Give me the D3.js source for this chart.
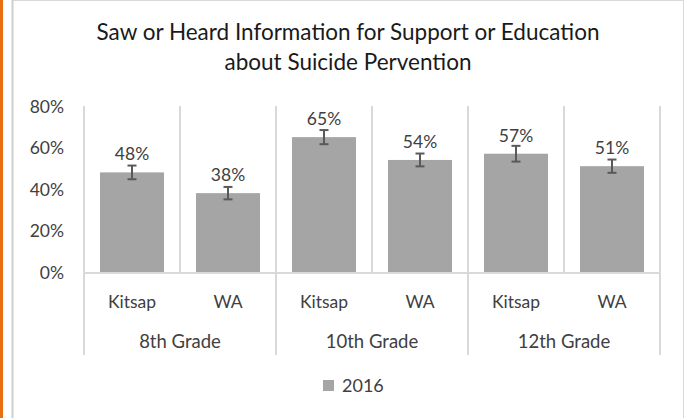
<!DOCTYPE html>
<html>
<head>
<meta charset="utf-8">
<script src="https://cdn.jsdelivr.net/npm/d3@7"></script>
<style>
  body { margin: 0; background: #fff; }
  text { font-family: Lato, "Open Sans", sans-serif; fill: #404040; }
</style>
</head>
<body>
<svg id="chart" width="686" height="418"></svg>
<script>
// Chart data
var grades   = ["8th Grade", "10th Grade", "12th Grade"];
var regions  = ["Kitsap", "WA"];
var values   = [48, 38, 65, 54, 57, 51];
var errors   = [3.3, 3.0, 3.4, 3.1, 3.8, 3.2];
var yTicks   = [0, 20, 40, 60, 80];
var titleLines = ["Saw or Heard Information for Support or Education", "about Suicide Pervention"];
var seriesName = "2016";

var rows = [];
grades.forEach(function(g, gi) {
  regions.forEach(function(r, ri) {
    var i = gi * regions.length + ri;
    rows.push({ key: g + "|" + r, grade: g, region: r, value: values[i], err: errors[i] });
  });
});

var svg = d3.select("#chart");
var plot = { left: 84, right: 660, top: 106, bottom: 272 };

// frame
svg.append("rect").attr("x", 0).attr("y", 0).attr("width", 3).attr("height", 418).attr("fill", "#e8700f");
svg.append("rect").attr("x", 12.5).attr("y", 0.5).attr("width", 671).attr("height", 420)
  .attr("fill", "none").attr("stroke", "#d9d9d9").attr("stroke-width", 1);
svg.append("line").attr("x1", 12.5).attr("x2", 12.5).attr("y1", 0).attr("y2", 418)
  .attr("stroke", "#cfcfcf").attr("stroke-width", 2);

var x = d3.scaleBand().domain(rows.map(d => d.key)).range([plot.left, plot.right]);
var xg = d3.scaleBand().domain(grades).range([plot.left, plot.right]);
var y = d3.scaleLinear().domain([0, 80]).range([plot.bottom, plot.top]);

// title
svg.append("text")
  .attr("x", 348).attr("y", 40)
  .attr("text-anchor", "middle")
  .style("font-size", "22.5px")
  .style("fill", "#1a1a1a")
  .selectAll("tspan").data(titleLines).join("tspan")
  .attr("x", 348).attr("dy", (d, i) => i ? 30 : 0)
  .text(d => d);

// vertical gridlines between categories (inside plot)
svg.append("g").selectAll("line").data(rows.slice(1)).join("line")
  .attr("x1", d => x(d.key)).attr("x2", d => x(d.key))
  .attr("y1", plot.top).attr("y2", plot.bottom)
  .attr("stroke", "#d9d9d9").attr("stroke-width", 2);

// group separators (through category axis)
var edges = grades.map(g => xg(g)).concat([plot.right]);
svg.append("g").selectAll("line").data(edges).join("line")
  .attr("x1", d => d).attr("x2", d => d)
  .attr("y1", plot.top).attr("y2", 355)
  .attr("stroke", "#d9d9d9").attr("stroke-width", 2);

// y axis labels
var yAxis = d3.axisLeft(y).tickValues(yTicks).tickFormat(d => d + "%").tickSize(0).tickPadding(0);
var ya = svg.append("g").attr("transform", "translate(64,0)").call(yAxis);
ya.select(".domain").remove();
ya.selectAll("text").style("font-size", "17.5px").style("fill", "#404040").attr("dy", "0.35em")
  .style("font-family", "Lato, sans-serif");

// bars
var bw = x.bandwidth() * 2 / 3;
svg.append("g").selectAll("rect").data(rows).join("rect")
  .attr("x", d => x(d.key) + (x.bandwidth() - bw) / 2)
  .attr("y", d => y(d.value))
  .attr("width", bw)
  .attr("height", d => y(0) - y(d.value))
  .attr("fill", "#a5a5a5");

// baseline
svg.append("line").attr("x1", plot.left).attr("x2", plot.right)
  .attr("y1", plot.bottom + 1).attr("y2", plot.bottom + 1)
  .attr("stroke", "#d9d9d9").attr("stroke-width", 2);

// error bars
var eb = svg.append("g").attr("stroke", "#595959").attr("stroke-width", 2);
rows.forEach(function(d) {
  var cx = x(d.key) + x.bandwidth() / 2;
  var y0 = y(d.value + d.err), y1 = y(d.value - d.err);
  eb.append("line").attr("x1", cx).attr("x2", cx).attr("y1", y0).attr("y2", y1);
  eb.append("line").attr("x1", cx - 4.5).attr("x2", cx + 4.5).attr("y1", y0).attr("y2", y0);
  eb.append("line").attr("x1", cx - 4.5).attr("x2", cx + 4.5).attr("y1", y1).attr("y2", y1);
});

// value labels
svg.append("g").selectAll("text").data(rows).join("text")
  .attr("x", d => x(d.key) + x.bandwidth() / 2)
  .attr("y", d => y(d.value) - 12)
  .attr("text-anchor", "middle")
  .style("font-size", "17.5px")
  .text(d => d.value + "%");

// category labels
svg.append("g").selectAll("text").data(rows).join("text")
  .attr("x", d => x(d.key) + x.bandwidth() / 2)
  .attr("y", 308)
  .attr("text-anchor", "middle")
  .style("font-size", "17.5px")
  .text(d => d.region);

svg.append("g").selectAll("text").data(grades).join("text")
  .attr("x", d => xg(d) + xg.bandwidth() / 2)
  .attr("y", 348)
  .attr("text-anchor", "middle")
  .style("font-size", "18.5px")
  .text(d => d);

// legend
var lg = svg.append("g").attr("transform", "translate(323,380)");
lg.append("rect").attr("width", 11).attr("height", 11).attr("fill", "#a5a5a5");
lg.append("text").attr("x", 19).attr("y", 12).style("font-size", "18px").text(seriesName);
</script>
</body>
</html>
